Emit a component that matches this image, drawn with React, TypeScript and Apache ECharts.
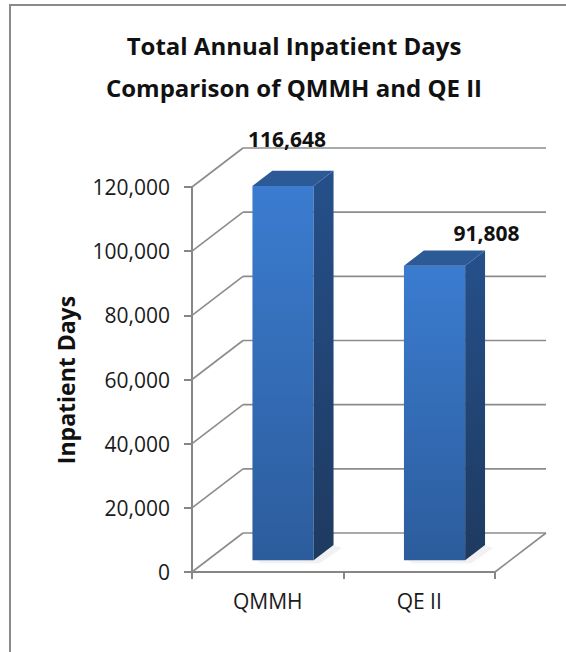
import React, { useEffect, useRef } from 'react';
import * as echarts from 'echarts';

// ---- data ----
const categories = ['QMMH', 'QE II'];
const inpatientDays = [116648, 91808];
const yTicks = [0, 20000, 40000, 60000, 80000, 100000, 120000];
const titleLines = ['Total Annual Inpatient Days', 'Comparison of QMMH and QE II'];
const yAxisTitle = 'Inpatient Days';

// ---- layout / style ----
const FONT = '"Open Sans", "Noto Sans", Arial, sans-serif';
const DEPTH = [51, -39];
const BAR_FRONT = 0.3;
const BAR_DEPTH = 0.39;
const BAR_WIDTH_RATIO = 0.404;
const LABEL_OFFSETS = [
  [4, -47],
  [52, -33],
];
const GRID_COLOR = '#8c8c8c';
const AXIS_COLOR = '#868686';

const fmt = (v: number) => v.toLocaleString('en-US');

export default function App() {
  const ref = useRef<HTMLDivElement>(null);

  useEffect(() => {
    if (!ref.current) return;
    const chart = echarts.init(ref.current, undefined, { renderer: 'svg' });

    const gridRender = (params: any, api: any) => {
      const v = api.value(1);
      const y = api.coord([0, v])[1];
      const cs = params.coordSys;
      const x0 = cs.x;
      const x1 = cs.x + cs.width;
      const style = { stroke: GRID_COLOR, lineWidth: 1.6 };
      const children: any[] = [
        { type: 'line', shape: { x1: x0, y1: y, x2: x0 + DEPTH[0], y2: y + DEPTH[1] }, style },
        { type: 'line', shape: { x1: x0 + DEPTH[0], y1: y + DEPTH[1], x2: x1 + DEPTH[0], y2: y + DEPTH[1] }, style },
      ];
      if (v === 0) {
        children.push({ type: 'line', shape: { x1: x1, y1: y, x2: x1 + DEPTH[0], y2: y + DEPTH[1] }, style });
      }
      return { type: 'group', children };
    };

    const barRender = (params: any, api: any) => {
      const idx = api.value(0);
      const val = api.value(1);
      const base = api.coord([idx, 0]);
      const top = api.coord([idx, val]);
      const band = api.size([1, 0])[0];
      const w = band * BAR_WIDTH_RATIO;
      const fx = DEPTH[0] * BAR_FRONT;
      const fy = DEPTH[1] * BAR_FRONT;
      const dx = DEPTH[0] * BAR_DEPTH;
      const dy = DEPTH[1] * BAR_DEPTH;
      const L = base[0] + fx - w / 2;
      const R = L + w;
      const yB = base[1] + fy;
      const yT = top[1] + fy;
      const off = LABEL_OFFSETS[params.dataIndex] || [0, -40];
      return {
        type: 'group',
        children: [
          {
            type: 'polygon',
            shape: { points: [[L + 4, yB], [R, yB], [R + dx, yB + dy], [R + dx + 8, yB + dy + 3], [R + 6, yB + 3], [L + 8, yB + 3]] },
            style: { fill: 'rgba(0,0,0,0.05)', shadowBlur: 8, shadowColor: 'rgba(0,0,0,0.18)' },
          },
          {
            type: 'rect',
            shape: { x: L, y: yT, width: w, height: yB - yT },
            style: {
              fill: new echarts.graphic.LinearGradient(0, 0, 0, 1, [
                { offset: 0, color: '#3b7cd0' },
                { offset: 1, color: '#2c5c9c' },
              ]),
            },
          },
          {
            type: 'polygon',
            shape: { points: [[R, yT], [R + dx, yT + dy], [R + dx, yB + dy], [R, yB]] },
            style: {
              fill: new echarts.graphic.LinearGradient(0, 0, 0, 1, [
                { offset: 0, color: '#25508a' },
                { offset: 1, color: '#1e3a60' },
              ]),
            },
          },
          {
            type: 'polygon',
            shape: { points: [[L, yT], [L + dx, yT + dy], [R + dx, yT + dy], [R, yT]] },
            style: { fill: '#2c5a96' },
          },
          {
            type: 'text',
            x: (L + R) / 2 + off[0],
            y: yT + off[1],
            style: {
              text: fmt(val),
              fontFamily: FONT,
              fontSize: 21,
              fontWeight: 'bold',
              fill: '#111',
              align: 'center',
              verticalAlign: 'middle',
            },
          },
        ],
      };
    };

    chart.setOption({
      animation: false,
      backgroundColor: '#ffffff',
      grid: { left: 192, right: 71, top: 187, bottom: 80, containLabel: false },
      xAxis: {
        type: 'category',
        data: categories,
        axisLine: { show: true, lineStyle: { color: AXIS_COLOR, width: 2 } },
        axisTick: { show: true, length: 7, alignWithLabel: false, lineStyle: { color: AXIS_COLOR, width: 2 } },
        axisLabel: { fontFamily: FONT, fontSize: 21, color: '#1a1a1a', margin: 18 },
        splitLine: { show: false },
      },
      yAxis: {
        type: 'value',
        min: 0,
        max: 120000,
        interval: 20000,
        axisLine: { show: true, lineStyle: { color: AXIS_COLOR, width: 2 } },
        axisTick: { show: true, length: 8, lineStyle: { color: AXIS_COLOR, width: 2 } },
        axisLabel: { fontFamily: FONT, fontSize: 21, color: '#1a1a1a', margin: 22, formatter: (v: number) => fmt(v) },
        splitLine: { show: false },
      },
      graphic: [
        {
          type: 'rect',
          shape: { x: 10, y: 5, width: 700, height: 800 },
          style: { fill: 'none', stroke: '#8a8a8a', lineWidth: 2 },
          z: 0,
        },
        {
          type: 'text',
          x: 294,
          y: 45,
          style: { text: titleLines[0], fontFamily: FONT, fontSize: 24, fontWeight: 'bold', fill: '#111', align: 'center', verticalAlign: 'middle' },
        },
        {
          type: 'text',
          x: 294,
          y: 87,
          style: { text: titleLines[1], fontFamily: FONT, fontSize: 24, fontWeight: 'bold', fill: '#111', align: 'center', verticalAlign: 'middle' },
        },
        {
          type: 'text',
          x: 66,
          y: 380,
          rotation: Math.PI / 2,
          style: { text: yAxisTitle, fontFamily: FONT, fontSize: 23, fontWeight: 'bold', fill: '#111', align: 'center', verticalAlign: 'middle' },
        },
      ],
      series: [
        {
          type: 'custom',
          name: 'grid3d',
          clip: false,
          silent: true,
          z: 1,
          data: yTicks.map((v) => [0, v]),
          renderItem: gridRender,
        },
        {
          type: 'custom',
          name: 'Inpatient Days',
          clip: false,
          z: 3,
          data: inpatientDays.map((v, i) => [i, v]),
          renderItem: barRender,
        },
      ],
    });

    return () => chart.dispose();
  }, []);

  return (
    <div
      ref={ref}
      style={{ position: 'fixed', left: 0, top: 0, width: 566, height: 652, background: '#fff' }}
    />
  );
}
